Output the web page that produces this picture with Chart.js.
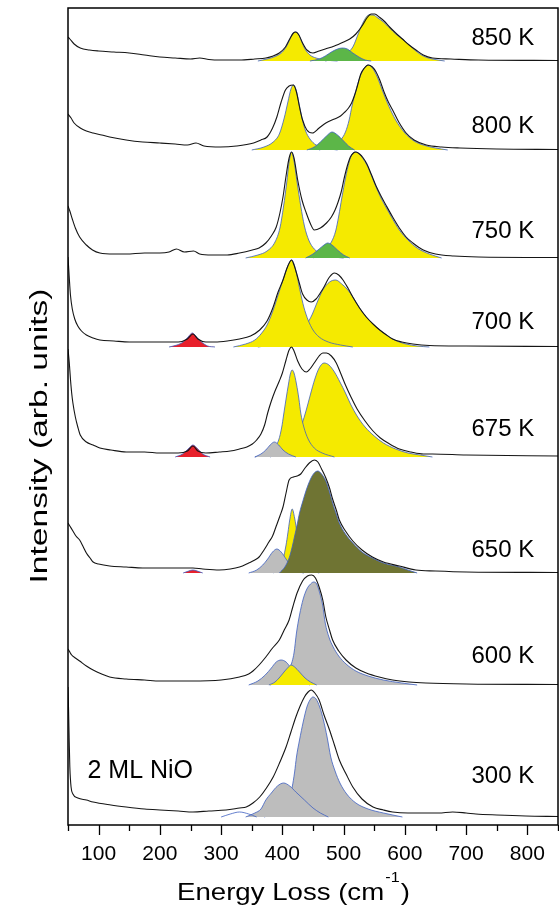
<!DOCTYPE html>
<html>
<head>
<meta charset="utf-8">
<script src="https://cdn.jsdelivr.net/npm/chart.js@4.4.1/dist/chart.umd.min.js"></script>
<style>
  html, body { margin: 0; padding: 0; background: #fff; }
  #wrap { width: 559px; height: 908px; position: relative; }
</style>
</head>
<body>
<div id="wrap"><canvas id="chart"></canvas></div>
<script>
/* ============================================================
   HREELS SPECTRA — 2 ML NiO, ANNEALING SERIES
   ============================================================ */

// ---- axis / labels ----
const xTickLabels = [100, 200, 300, 400, 500, 600, 700, 800];
const xMinorTicks = [50, 150, 250, 350, 450, 550, 650, 750, 850];
const temps   = ['850 K', '800 K', '750 K', '700 K', '675 K', '650 K', '600 K', '300 K'];
const offsets = [764, 675, 567, 478, 368, 252, 140, 8];   // vertical stacking offset (arb. units)
const labelLift = [25, 26, 29, 27, 30, 25, 31, 43];

// ---- measured spectra [energy loss, intensity above offset] ----
const exp850 = [[50,24],[53,22],[60,17],[70,13],[85,11],[100,10],[125,9],[150,8],[175,6],[200,4],[225,3],[250,2],[265,3],[280,1.5],[300,1],[330,1],[355,2],[373,3],[385,5],[395,8],[405,14],[412,22],[418,28],[422,29],[427,26],[433,18],[440,11],[450,8],[460,10],[470,12],[485,15],[500,19],[510,22],[520,27],[530,35],[538,43],[545,47],[551,47],[558,44],[566,40],[575,34],[585,28],[596,22],[607,16],[618,11],[630,6],[645,3],[675,2],[720,1],[850,0.5]];
const exp800 = [[50,36],[55,32],[60,27],[70,22],[80,19],[91,17],[105,15],[118,13],[145,10],[172,8],[200,7],[225,6],[245,5],[259,7],[272,4],[299,3],[325,4],[353,7],[365,10],[375,13],[384,22],[391,33],[398,48],[405,60],[411,64],[418,65],[423,58],[428,43],[433,30],[440,20],[449,17],[460,22],[471,27],[485,31],[495,34],[502,38],[508,42],[513,47],[518,55],[522,63],[528,76],[534,82],[540,85],[547,83],[553,78],[559,70],[566,58],[573,48],[580,40],[590,28],[602,17],[615,10],[635,5],[660,3],[690,2],[750,1],[850,0.5]];
const exp750 = [[50,52],[53,47],[57,39],[62,30],[69,21],[80,13],[90,8],[102,5],[125,4],[145,4],[175,5],[200,5],[215,6],[227,9],[240,6],[255,7],[265,4],[285,3],[310,3],[330,5],[351,8],[362,10],[373,15],[382,22],[390,31],[396,45],[401,61],[406,82],[411,100],[415,106],[419,100],[425,78],[432,58],[439,45],[446,34],[452,28],[462,30],[472,35],[480,41],[486,48],[491,56],[496,66],[501,80],[506,92],[511,101],[516,105],[520,106],[526,104],[532,100],[538,94],[545,84],[553,72],[561,62],[569,53],[580,41],[591,30],[602,21],[613,15],[630,8],[650,4],[680,2],[720,1],[850,0.5]];
const exp700 = [[50,90],[52,70],[54,52],[57,38],[61,28],[66,21],[72,16],[80,12],[91,9],[102,7],[125,6],[150,5],[200,5],[230,5],[245,8],[254,13],[262,8],[275,5],[290,5],[310,6],[330,8],[348,11],[363,17],[375,26],[385,40],[393,55],[401,67],[407,78],[412,85],[415,87],[419,82],[424,72],[429,61],[433,53],[440,47],[447,45],[455,48],[466,58],[477,70],[485,74],[492,72],[499,67],[507,59],[515,50],[526,39],[537,30],[548,23],[559,17],[570,12],[580,8],[595,5],[613,3],[640,1.5],[700,1],[850,0.5]];
const exp675 = [[50,108],[52,95],[54,78],[56,64],[58,54],[62,40],[66,30],[70,22],[80,15],[91,12],[102,9],[120,7],[145,5],[175,5],[200,4],[230,4],[245,6],[254,11],[262,6],[275,4],[297,5],[315,6],[330,8],[342,10],[351,13],[358,17],[365,23],[371,32],[376,44],[382,56],[388,66],[395,76],[400,84],[406,97],[411,107],[415,110],[419,106],[425,96],[432,88],[439,85],[445,88],[452,94],[460,101],[466,104],[472,104],[480,101],[488,94],[495,84],[503,72],[512,60],[522,48],[535,36],[548,26],[560,19],[575,13],[591,8],[610,5],[630,3],[645,3],[700,2],[850,1]];
const exp650 = [[50,50],[53,47],[58,42],[63,37],[69,33],[75,26],[80,20],[86,15],[91,11],[100,9],[118,7],[145,6],[172,5],[200,5],[227,5],[254,5],[270,4],[297,3],[315,4],[330,6],[345,10],[355,13],[362,16],[370,23],[378,31],[384,37],[390,47],[396,57],[401,66],[406,80],[411,93],[418,96],[424,97],[430,99],[437,105],[444,110],[452,113],[458,111],[464,104],[471,95],[477,85],[482,74],[488,63],[493,53],[503,42],[515,32],[530,23],[547,16],[565,11],[591,7],[618,3],[650,2],[700,1],[850,0.5]];
const exp600 = [[50,36],[52,34],[56,30],[62,27],[69,24],[80,19],[91,15],[105,11],[118,8],[145,6],[175,5],[200,4],[250,4],[300,5],[330,8],[345,11],[352,14],[362,20],[373,28],[384,37],[395,45],[403,55],[411,65],[417,78],[424,92],[433,104],[441,109],[448,110],[454,107],[460,98],[466,85],[471,68],[477,55],[482,45],[492,34],[504,25],[520,17],[537,12],[558,8],[580,5],[607,3],[634,2],[700,1],[850,0.5]];
const exp300 = [[50,130],[51,105],[52,75],[53,50],[55,30],[58,23],[66,19],[80,17],[91,15],[120,12],[145,10],[175,8],[200,7],[230,6],[254,5],[280,6],[308,7],[330,9],[341,10],[352,14],[363,20],[374,29],[385,40],[396,55],[406,70],[414,85],[422,100],[429,111],[436,120],[442,125],[447,127],[453,124],[460,117],[468,102],[477,87],[485,72],[493,57],[504,43],[515,30],[530,18],[548,10],[565,7],[580,5],[605,4],[634,4],[655,4],[678,5],[700,4],[716,3],[750,2],[797,1],[850,0.5]];

// ---- fitted components ----
const c850green = [[445,0],[460,2],[470,5],[480,9],[490,12],[498,13],[506,12],[515,8],[525,4],[535,1],[545,0]];
const c850y1 = [[360,0],[375,2],[390,5],[400,9],[408,16],[414,24],[418,28],[422,29],[426,27],[431,20],[437,12],[445,6],[455,3],[470,1],[490,0]];
const c850y2 = [[470,0],[490,3],[505,8],[515,14],[525,29],[533,40],[541,46],[548,46],[556,43],[565,39],[575,33],[585,27],[596,22],[607,16],[618,10],[630,5],[645,2],[665,0]];

const c800green = [[440,0],[452,3],[462,8],[472,14],[481,18],[490,15],[500,9],[508,4],[518,0]];
const c800y1 = [[350,0],[370,3],[385,8],[395,16],[403,32],[409,48],[414,61],[418,65],[422,61],[427,47],[432,32],[438,19],[445,11],[455,5],[470,2],[490,0]];
const c800y2 = [[460,0],[475,3],[488,7],[495,10],[503,18],[509,30],[514,45],[519,57],[524,68],[530,78],[535,83],[540,85],[547,82],[555,73],[563,60],[573,45],[585,30],[600,17],[615,9],[630,5],[650,2],[670,0]];

const c750green = [[438,0],[450,4],[460,9],[468,13],[474,15],[481,13],[490,8],[500,3],[510,0]];
const c750y1 = [[340,0],[360,3],[375,7],[388,16],[396,30],[402,52],[407,75],[411,96],[415,106],[419,97],[424,76],[430,52],[436,32],[443,18],[452,9],[465,4],[485,1],[500,0]];
const c750y2 = [[450,0],[462,5],[472,10],[480,16],[487,27],[492,42],[497,60],[503,80],[509,96],[514,104],[519,106],[526,104],[532,99],[538,93],[545,83],[553,71],[561,60],[569,51],[580,39],[591,28],[605,18],[620,10],[640,4],[660,0]];

const c700red = [[215,0],[228,2],[238,5],[246,10],[253,14],[260,10],[268,5],[278,1],[290,0]];
const c700y1 = [[320,0],[340,3],[355,7],[365,13],[375,22],[385,37],[393,52],[401,67],[407,78],[412,85],[415,87],[419,83],[424,71],[429,56],[435,40],[442,27],[450,17],[460,10],[475,5],[495,2],[515,0]];
const c700y2 = [[360,0],[390,3],[410,8],[425,14],[437,21],[444,27],[449,33],[457,45],[466,57],[477,65],[487,67],[497,63],[507,57],[515,50],[526,39],[537,30],[548,23],[559,17],[570,12],[580,8],[591,5],[602,3],[620,1],[640,0]];

const c675grey = [[355,0],[365,3],[373,7],[380,12],[387,15],[394,12],[401,7],[410,3],[422,0]];
const c675red = [[225,0],[237,3],[246,8],[254,12],[262,8],[270,3],[282,0]];
const c675y1 = [[355,0],[372,3],[385,8],[394,17],[399,30],[402,42],[406,58],[410,73],[413,83],[416,87],[419,84],[423,73],[427,58],[430,44],[435,30],[442,18],[452,9],[465,4],[485,0]];
const c675y2 = [[380,0],[400,5],[415,12],[425,22],[432,33],[439,47],[446,63],[453,78],[460,89],[468,94],[476,92],[485,85],[494,75],[503,64],[512,52],[522,41],[535,30],[550,21],[565,14],[585,8],[605,4],[625,2],[645,0]];

const c650olive = [[395,0],[404,6],[411,15],[416,26],[420,37],[424,48],[428,60],[434,73],[439,83],[446,94],[452,100],[458,102],[464,99],[471,92],[477,81],[482,70],[488,59],[493,50],[503,39],[515,30],[530,21],[547,15],[565,10],[591,6],[605,3],[620,0]];
const c650grey = [[345,0],[358,3],[368,8],[376,14],[384,21],[391,24],[398,21],[406,14],[414,7],[423,2],[435,0]];
const c650y = [[385,0],[395,6],[401,14],[406,28],[409,40],[412,53],[416,64],[420,55],[424,40],[428,26],[433,14],[440,6],[450,2],[460,0]];
const c650red = [[238,0],[247,2],[254,3],[261,2],[270,0]];

const c600y = [[378,0],[388,3],[396,8],[404,14],[410,18],[414,20],[420,18],[428,13],[437,7],[446,3],[456,0]];
const c600grey1 = [[345,0],[360,4],[372,10],[382,17],[390,23],[398,25],[406,23],[414,17],[422,10],[432,4],[445,0]];
const c600grey2 = [[380,0],[395,4],[405,9],[413,18],[419,32],[423,52],[428,70],[434,86],[440,96],[446,101],[451,103],[456,101],[461,92],[466,79],[470,62],[476,48],[483,38],[492,29],[504,21],[520,14],[540,9],[565,5],[595,2],[620,0]];

const c300grey1 = [[340,0],[355,4],[365,8],[373,17],[382,24],[392,31],[402,34],[412,31],[422,25],[436,17],[450,9],[462,4],[475,0]];
const c300grey2 = [[370,0],[390,4],[402,9],[410,17],[416,30],[420,45],[423,60],[428,77],[434,95],[440,110],[445,117],[450,120],[455,118],[461,110],[467,97],[473,80],[479,60],[486,46],[494,34],[505,23],[520,14],[540,8],[565,4],[596,0]];
const c300small = [[300,0],[315,3],[330,5],[345,3],[358,0]];

const COLORS = {
  yellow: '#f5ea00',
  green: '#5cb648',
  grey: '#bdbdbd',
  olive: '#6f7433',
  red: '#e8202b',
  outline: '#3d5fc2',
};
const FONT = '"Liberation Sans", Arial, sans-serif';

// components listed top-most first
const spectra = [
  { exp: exp850, parts: [[c850green, COLORS.green], [c850y1, COLORS.yellow], [c850y2, COLORS.yellow]] },
  { exp: exp800, parts: [[c800green, COLORS.green], [c800y1, COLORS.yellow], [c800y2, COLORS.yellow]] },
  { exp: exp750, parts: [[c750green, COLORS.green], [c750y1, COLORS.yellow], [c750y2, COLORS.yellow]] },
  { exp: exp700, parts: [[c700red, COLORS.red], [c700y1, COLORS.yellow], [c700y2, COLORS.yellow]] },
  { exp: exp675, parts: [[c675grey, COLORS.grey], [c675red, COLORS.red], [c675y1, COLORS.yellow], [c675y2, COLORS.yellow]] },
  { exp: exp650, parts: [[c650olive, COLORS.olive], [c650grey, COLORS.grey], [c650y, COLORS.yellow], [c650red, COLORS.red]] },
  { exp: exp600, parts: [[c600y, COLORS.yellow], [c600grey1, COLORS.grey], [c600grey2, COLORS.grey]] },
  { exp: exp300, parts: [[c300small, null], [c300grey1, COLORS.grey], [c300grey2, COLORS.grey]] },
];

function toPts(arr, off) {
  return arr.map(([x, y]) => ({ x, y: y + off }));
}

function buildDatasets() {
  const lines = [];
  const fills = [];
  spectra.forEach((s, i) => {
    const off = offsets[i];
    lines.push({
      data: toPts(s.exp, off),
      borderColor: '#151515',
      borderWidth: 1.1,
      pointRadius: 0,
      fill: false,
      cubicInterpolationMode: 'monotone',
    });
    s.parts.forEach(([pts, color]) => {
      fills.push({
        data: toPts(pts, off),
        borderColor: COLORS.outline,
        borderWidth: 0.8,
        backgroundColor: color || 'transparent',
        fill: color ? { value: off } : false,
        pointRadius: 0,
        cubicInterpolationMode: 'monotone',
      });
    });
  });
  return lines.concat(fills);
}

// frame, tick marks and all text
const decorPlugin = {
  id: 'decor',
  afterDraw(chart) {
    const { ctx, chartArea: a, scales } = chart;
    const x = scales.x, y = scales.y;
    ctx.save();
    ctx.strokeStyle = '#000';
    ctx.lineWidth = 1.5;
    ctx.strokeRect(a.left, a.top, a.right - a.left, a.bottom - a.top);

    ctx.lineWidth = 1.3;
    const tick = (v, len) => {
      const px = Math.round(x.getPixelForValue(v)) + 0.5;
      ctx.beginPath();
      ctx.moveTo(px, a.bottom);
      ctx.lineTo(px, a.bottom + len);
      ctx.stroke();
    };
    xTickLabels.forEach(v => tick(v, 10));
    xMinorTicks.forEach(v => tick(v, 6));

    ctx.fillStyle = '#000';
    ctx.font = '24px ' + FONT;
    ctx.textAlign = 'center';
    ctx.textBaseline = 'alphabetic';
    temps.forEach((t, i) => {
      ctx.fillText(t, x.getPixelForValue(760), y.getPixelForValue(offsets[i] + labelLift[i]) + 8.5);
    });
    ctx.font = '25px ' + FONT;
    ctx.fillText('2 ML NiO', x.getPixelForValue(168), y.getPixelForValue(56) + 9);

    // x title with superscript
    ctx.textAlign = 'left';
    const main = 'Energy Loss (cm', sup = '-1', close = ')';
    ctx.font = '24px ' + FONT;
    const w1 = ctx.measureText(main).width, w3 = ctx.measureText(close).width;
    ctx.font = '14px ' + FONT;
    const w2 = ctx.measureText(sup).width + 2;
    const sx = 233 / (w1 + w2 + w3);
    ctx.translate(177, 900);
    ctx.scale(sx, 1);
    ctx.font = '24px ' + FONT;
    ctx.fillText(main, 0, 0);
    ctx.font = '14px ' + FONT;
    ctx.fillText(sup, w1 + 1, -18);
    ctx.font = '24px ' + FONT;
    ctx.fillText(close, w1 + w2, 0);
    ctx.setTransform(1, 0, 0, 1, 0, 0);

    // y title
    ctx.font = '23px ' + FONT;
    ctx.textAlign = 'center';
    const yt = 'Intensity (arb. units)';
    const sy = 295 / ctx.measureText(yt).width;
    ctx.translate(46.5, 436);
    ctx.rotate(-Math.PI / 2);
    ctx.scale(sy, 1);
    ctx.fillText(yt, 0, 0);
    ctx.restore();
  },
};

function renderChart() {
  const ctx = document.getElementById('chart');
  new Chart(ctx, {
    type: 'line',
    data: { datasets: buildDatasets() },
    options: {
      responsive: true,
      maintainAspectRatio: false,
      animation: false,
      events: [],
      layout: { padding: { left: 68, right: 1, top: 8, bottom: 0 } },
      plugins: { legend: { display: false }, tooltip: { enabled: false } },
      scales: {
        x: {
          type: 'linear',
          min: 50,
          max: 850,
          grid: { display: false },
          border: { display: false },
          afterFit: (s) => { s.height = 83; s.paddingLeft = 0; s.paddingRight = 0; },
          ticks: {
            stepSize: 50,
            autoSkip: false,
            maxRotation: 0,
            padding: 9,
            color: '#000',
            font: { family: FONT, size: 21 },
            callback: (v) => (xTickLabels.includes(v) ? String(v) : ''),
          },
        },
        y: { type: 'linear', min: 0, max: 817, display: false },
      },
    },
    plugins: [decorPlugin],
  });
}

document.addEventListener('DOMContentLoaded', renderChart);
</script>
</body>
</html>
